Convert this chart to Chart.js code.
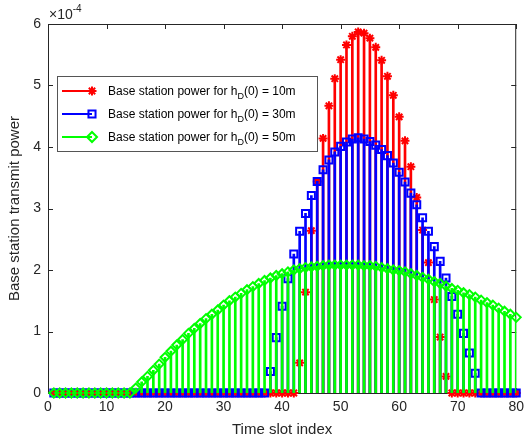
<!DOCTYPE html>
<html>
<head>
<meta charset="utf-8">
<script src="https://cdn.jsdelivr.net/npm/chart.js@4.4.1/dist/chart.umd.min.js"></script>
<style>
  html, body { margin: 0; padding: 0; background: #fff; }
  #wrap { width: 530px; height: 443px; }
</style>
</head>
<body>
<div id="wrap"><canvas id="chart" width="530" height="443"></canvas></div>
<script>
// Time slots 1..80
const slots = [];
for (let i = 1; i <= 80; i++) slots.push(i);

// Base station power, in units of 1e-4 (one value per time slot)
const power10m = [
  0, 0, 0, 0, 0, 0, 0, 0, 0, 0,
  0, 0, 0, 0, 0, 0, 0, 0, 0, 0,
  0, 0, 0, 0, 0, 0, 0, 0, 0, 0,
  0, 0, 0, 0, 0, 0, 0, 0, 0, 0,
  0, 0, 0.49, 1.64, 2.64, 3.44, 4.14, 4.67, 5.11, 5.42,
  5.66, 5.80, 5.87, 5.85, 5.77, 5.62, 5.41, 5.15, 4.84, 4.49,
  4.10, 3.68, 3.18, 2.65, 2.12, 1.52, 0.91, 0.27, 0, 0,
  0, 0, 0, 0, 0, 0, 0, 0, 0, 0
];
const power30m = [
  0, 0, 0, 0, 0, 0, 0, 0, 0, 0,
  0, 0, 0, 0, 0, 0, 0, 0, 0, 0,
  0, 0, 0, 0, 0, 0, 0, 0, 0, 0,
  0, 0, 0, 0, 0, 0, 0, 0.35, 0.90, 1.41,
  1.86, 2.26, 2.63, 2.92, 3.21, 3.44, 3.63, 3.79, 3.92, 4.01,
  4.08, 4.13, 4.15, 4.13, 4.09, 4.03, 3.96, 3.86, 3.74, 3.59,
  3.43, 3.25, 3.06, 2.85, 2.63, 2.38, 2.14, 1.87, 1.57, 1.28,
  0.97, 0.65, 0.32, 0, 0, 0, 0, 0, 0, 0
];
const power50m = [
  0, 0, 0, 0, 0, 0, 0, 0, 0, 0,
  0, 0, 0, 0, 0.08, 0.18, 0.27, 0.37, 0.47, 0.58,
  0.68, 0.78, 0.87, 0.97, 1.05, 1.13, 1.21, 1.28, 1.35, 1.43,
  1.50, 1.56, 1.62, 1.68, 1.73, 1.78, 1.83, 1.87, 1.91, 1.94,
  1.97, 2.00, 2.02, 2.04, 2.05, 2.06, 2.07, 2.08, 2.08, 2.08,
  2.08, 2.08, 2.08, 2.07, 2.07, 2.06, 2.04, 2.02, 2.00, 1.99,
  1.97, 1.94, 1.91, 1.88, 1.85, 1.81, 1.78, 1.74, 1.70, 1.67,
  1.63, 1.60, 1.56, 1.51, 1.47, 1.43, 1.38, 1.33, 1.28, 1.23
];

const xTicks = [0, 10, 20, 30, 40, 50, 60, 70, 80];
const yTicks = [0, 1, 2, 3, 4, 5, 6];
const legendHeights = ['10m', '30m', '50m'];

const FONT = '"Liberation Sans", Arial, Helvetica, sans-serif';
const AXIS = '#262626';
const RED = '#ff0000', BLUE = '#0000ff', GREEN = '#00ff00';

function toPoints(vals) {
  return vals.map((v, i) => ({ x: slots[i], y: v }));
}

// stem lines drawn as thin bars
function stemSet(vals, color, order) {
  return {
    type: 'bar', data: toPoints(vals), backgroundColor: color,
    borderWidth: 0, barThickness: 2, grouped: false, order: order
  };
}

function markerSet(vals, color, style, radius, order) {
  return {
    type: 'line', data: toPoints(vals), showLine: false,
    borderColor: color, pointBorderColor: color,
    pointBackgroundColor: 'rgba(0,0,0,0)', pointStyle: style,
    pointRadius: radius, pointBorderWidth: 2, clip: false, order: order
  };
}

// draw a marker the same way for the legend
function drawMarker(ctx, style, x, y, r) {
  ctx.beginPath();
  if (style === 'star') {
    ctx.moveTo(x - r, y); ctx.lineTo(x + r, y);
    ctx.moveTo(x, y - r); ctx.lineTo(x, y + r);
    const d = r * Math.SQRT1_2;
    ctx.moveTo(x - d, y - d); ctx.lineTo(x + d, y + d);
    ctx.moveTo(x - d, y + d); ctx.lineTo(x + d, y - d);
  } else if (style === 'rect') {
    const s = r * Math.SQRT1_2;
    ctx.rect(x - s, y - s, 2 * s, 2 * s);
  } else {
    ctx.moveTo(x, y - r); ctx.lineTo(x + r, y);
    ctx.lineTo(x, y + r); ctx.lineTo(x - r, y); ctx.closePath();
  }
  ctx.stroke();
}

const framePlugin = {
  id: 'frame',
  beforeDatasetsDraw(chart) {
    const { ctx, chartArea: a, scales: { x, y } } = chart;
    ctx.save();
    ctx.strokeStyle = AXIS;
    ctx.lineWidth = 1;
    ctx.strokeRect(a.left + 0.5, a.top + 0.5, a.right - a.left - 1, a.bottom - a.top);
    ctx.beginPath();
    xTicks.forEach(v => {
      const px = Math.round(x.getPixelForValue(v)) + 0.5;
      ctx.moveTo(px, a.bottom); ctx.lineTo(px, a.bottom - 5);
      ctx.moveTo(px, a.top); ctx.lineTo(px, a.top + 5);
    });
    yTicks.forEach(v => {
      const py = Math.round(y.getPixelForValue(v)) + 0.5;
      ctx.moveTo(a.left, py); ctx.lineTo(a.left + 5, py);
      ctx.moveTo(a.right, py); ctx.lineTo(a.right - 5, py);
    });
    ctx.stroke();
    ctx.restore();
  },
  afterDraw(chart) {
    const { ctx, chartArea: a } = chart;
    ctx.save();
    // exponent label
    ctx.fillStyle = AXIS;
    ctx.textBaseline = 'alphabetic';
    ctx.font = '14px ' + FONT;
    ctx.fillText('\u00d710', a.left + 1, a.top - 5);
    const w = ctx.measureText('\u00d710').width;
    ctx.font = '10px ' + FONT;
    ctx.fillText('-4', a.left + 1 + w, a.top - 12);

    // legend box
    const bx = 57, by = 76, bw = 260, bh = 75;
    ctx.fillStyle = '#fff';
    ctx.fillRect(bx, by, bw, bh);
    ctx.strokeStyle = '#555';
    ctx.lineWidth = 1;
    ctx.strokeRect(bx + 0.5, by + 0.5, bw, bh);

    const items = [
      { color: RED, style: 'star', r: 4.5 },
      { color: BLUE, style: 'rect', r: 5 },
      { color: GREEN, style: 'rectRot', r: 5 }
    ];
    items.forEach((it, i) => {
      const cy = 91 + i * 23;
      ctx.strokeStyle = it.color;
      ctx.lineWidth = 2;
      ctx.beginPath();
      ctx.moveTo(62, cy); ctx.lineTo(92, cy);
      ctx.stroke();
      drawMarker(ctx, it.style, 92, cy, it.r);

      ctx.fillStyle = '#000';
      ctx.font = '12px ' + FONT;
      let tx = 108;
      const base = cy + 4;
      const t1 = 'Base station power for h';
      ctx.fillText(t1, tx, base);
      tx += ctx.measureText(t1).width;
      ctx.font = '9px ' + FONT;
      ctx.fillText('D', tx, base + 4);
      tx += ctx.measureText('D').width;
      ctx.font = '12px ' + FONT;
      ctx.fillText('(0) = ' + legendHeights[i], tx, base);
    });
    ctx.restore();
  }
};

new Chart(document.getElementById('chart'), {
  type: 'bar',
  data: {
    datasets: [
      markerSet(power50m, GREEN, 'rectRot', 4.5, 0),
      stemSet(power50m, GREEN, 1),
      markerSet(power30m, BLUE, 'rect', 5, 2),
      stemSet(power30m, BLUE, 3),
      markerSet(power10m, RED, 'star', 4.5, 4),
      stemSet(power10m, RED, 5)
    ]
  },
  options: {
    responsive: false,
    animation: false,
    layout: { padding: { top: 24, right: 13, left: 0, bottom: 0 } },
    plugins: { legend: { display: false }, tooltip: { enabled: false } },
    scales: {
      x: {
        type: 'linear', min: 0, max: 80, offset: false,
        afterBuildTicks: s => { s.ticks = xTicks.map(v => ({ value: v })); },
        ticks: { color: AXIS, font: { family: FONT, size: 14 }, padding: 6, maxRotation: 0 },
        grid: { display: false, drawTicks: false },
        border: { display: false },
        title: { display: true, text: 'Time slot index', color: AXIS,
                 font: { family: FONT, size: 15 }, padding: { bottom: 4 } },
        afterFit: s => { s.height = 50; }
      },
      y: {
        type: 'linear', min: 0, max: 6,
        afterBuildTicks: s => { s.ticks = yTicks.map(v => ({ value: v })); },
        ticks: { color: AXIS, font: { family: FONT, size: 14 }, padding: 7 },
        grid: { display: false, drawTicks: false },
        border: { display: false },
        title: { display: true, text: 'Base station transmit power', color: AXIS,
                 font: { family: FONT, size: 15 }, padding: { top: 6 } },
        afterFit: s => { s.width = 48; }
      }
    }
  },
  plugins: [framePlugin]
});
</script>
</body>
</html>
